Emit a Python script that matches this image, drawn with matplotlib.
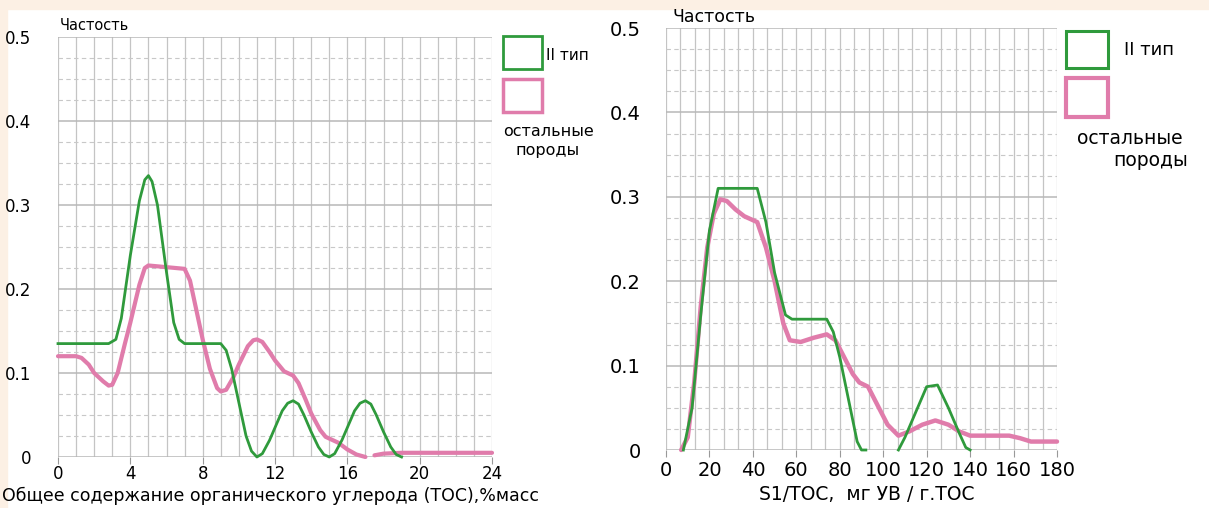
import numpy as np
import matplotlib
matplotlib.use("Agg")
import matplotlib.pyplot as plt
from matplotlib.ticker import MultipleLocator
from matplotlib.patches import Rectangle

plt.rcParams["font.family"] = ["DejaVu Sans"]

# Data
# left panel: TOC, % mass
toc_x = [0, 1, 2, 2.8, 3.2, 3.5, 4, 4.5, 4.8, 5, 5.2, 5.5, 6, 6.4, 6.7, 7, 8, 9,
         9.3, 9.6, 10, 10.4, 10.7, 11, 11.3, 11.7, 12, 12.4, 12.7, 13, 13.3, 13.6,
         14, 14.4, 14.7, 15, 15.3, 15.7, 16, 16.4, 16.7, 17, 17.3, 17.6, 18, 18.4,
         18.7, 19]
toc_type2 = [0.135, 0.135, 0.135, 0.135, 0.14, 0.165, 0.24, 0.305, 0.33, 0.335, 0.328,
             0.30, 0.22, 0.16, 0.14, 0.135, 0.135, 0.135, 0.127, 0.105, 0.065, 0.025,
             0.007, 0.0, 0.004, 0.02, 0.035, 0.055, 0.064, 0.067, 0.063, 0.05, 0.03,
             0.012, 0.003, 0.0, 0.004, 0.02, 0.035, 0.055, 0.064, 0.067, 0.063, 0.05,
             0.03, 0.012, 0.003, 0.0]
toc_other_x = [0, 1, 1.3, 1.7, 2, 2.5, 2.8, 3, 3.3, 3.7, 4, 4.5, 4.8, 5, 6, 7, 7.3,
               7.6, 8, 8.4, 8.8, 9, 9.3, 9.7, 10, 10.5, 10.8, 11, 11.3, 11.7, 12, 12.5,
               13, 13.3, 13.7, 14, 14.5, 14.8, 15, 15.5, 16, 16.5, 17,
               17.2, 17.5, 18, 19, 24]
toc_other = [0.12, 0.12, 0.118, 0.11, 0.10, 0.09, 0.085, 0.086, 0.10, 0.135, 0.16,
             0.205, 0.225, 0.228, 0.226, 0.224, 0.21, 0.18, 0.14, 0.105, 0.082, 0.078,
             0.08, 0.095, 0.11, 0.132, 0.139, 0.14, 0.137, 0.125, 0.115, 0.102, 0.097,
             0.088, 0.068, 0.052, 0.032, 0.024, 0.022, 0.017, 0.009, 0.003, 0.0,
             np.nan, 0.002, 0.004, 0.005, 0.005]

# right panel: S1/TOC
s1_x = [8, 12, 16, 20, 24, 42, 46, 50, 55, 58, 74, 77, 80, 84, 88, 90, 92,
        99, 107, 110, 115, 120, 125, 130, 135, 138, 140]
s1_type2 = [0.0, 0.05, 0.16, 0.26, 0.31, 0.31, 0.27, 0.21, 0.16, 0.155, 0.155, 0.14,
            0.11, 0.06, 0.01, 0.0, 0.0,
            np.nan, 0.0, 0.015, 0.045, 0.075, 0.077, 0.05, 0.02, 0.003, 0.0]
s1_other_x = [7, 10, 13, 16, 19, 22, 25, 28, 32, 36, 42, 46, 50, 54, 57, 62, 68, 74,
              78, 82, 86, 89, 93, 97, 102, 107, 112, 118, 124, 130, 135, 140, 158,
              163, 168, 180]
s1_other = [0.0, 0.015, 0.08, 0.17, 0.24, 0.28, 0.297, 0.295, 0.285, 0.277, 0.27, 0.24,
            0.20, 0.15, 0.13, 0.128, 0.133, 0.137, 0.13, 0.11, 0.09, 0.08, 0.075, 0.055,
            0.03, 0.017, 0.022, 0.03, 0.035, 0.03, 0.022, 0.017, 0.017, 0.014, 0.01, 0.01]

GREEN = "#2f9a3c"
PINK = "#e07cab"
W, H = 1209, 508

fig = plt.figure(figsize=(W / 100, H / 100), dpi=100)
fig.patch.set_facecolor("white")
# peach border strips
fig.patches.append(Rectangle((0, 1 - 9 / H), 1, 9 / H, transform=fig.transFigure,
                             color="#fcf0e4", zorder=-5))
fig.patches.append(Rectangle((0, 0), 7 / W, 1, transform=fig.transFigure,
                             color="#fcf0e4", zorder=-5))


def px_axes(x0, x1, y0, y1):
    # pixel box (y measured from top) -> figure axes
    return fig.add_axes([x0 / W, (H - y0) / H, (x1 - x0) / W, (y0 - y1) / H])


def style(ax, xmax, xmaj, xmin, xpad, ypad, fs):
    ax.set_ylim(0, 0.5)
    ax.set_xlim(0, xmax)
    for s in ax.spines.values():
        s.set_visible(False)
    ax.patch.set_alpha(0)
    ax.xaxis.set_major_locator(MultipleLocator(xmaj))
    ax.xaxis.set_minor_locator(MultipleLocator(xmin))
    ax.yaxis.set_major_locator(MultipleLocator(0.1))
    ax.yaxis.set_minor_locator(MultipleLocator(0.025))
    ax.grid(which="major", axis="y", color="#b8b8b8", lw=1.1)
    ax.grid(which="minor", axis="y", color="#c8c8c8", lw=0.8, ls=(0, (4, 3)))
    ax.grid(which="both", axis="x", color="#c4c4c4", lw=0.9)
    ax.tick_params(axis="x", which="major", length=5, color="#999999", labelsize=fs,
                   pad=xpad)
    ax.tick_params(axis="x", which="minor", length=0)
    ax.tick_params(axis="y", which="both", length=0, labelsize=fs, pad=ypad)
    ax.set_yticks([0, 0.1, 0.2, 0.3, 0.4, 0.5])
    ax.set_yticklabels(["0", "0.1", "0.2", "0.3", "0.4", "0.5"])
    ax.set_axisbelow(True)


# left panel
ax1 = px_axes(58, 492, 457, 37)
style(ax1, 24, 4, 1, 1, 19, 12)
ax1.plot(toc_x, toc_type2, color=GREEN, lw=2.0, clip_on=False, zorder=3)
ax1.plot(toc_other_x, toc_other, color=PINK, lw=3.0, clip_on=False, zorder=2,
         solid_capstyle="round")
fig.text(2 / W, 1 - 496 / H, "Общее содержание органического углерода (ТОС),%масс",
         fontsize=12.5, va="center", ha="left")

# right panel
ax2 = px_axes(666, 1057, 450, 28)
style(ax2, 180, 20, 20 / 3, 3, 18, 14)
ax2.plot(s1_x, s1_type2, color=GREEN, lw=2.0, clip_on=False, zorder=3)
ax2.plot(s1_other_x, s1_other, color=PINK, lw=3.2, clip_on=False, zorder=2,
         solid_capstyle="round")
fig.text(867 / W, 1 - 494 / H, "S1/TOC,  мг УВ / г.TOC", fontsize=13.5,
         va="center", ha="center")

# y axis captions
fig.text(60 / W, 1 - 25 / H, "Частость", fontsize=10.5, va="center", ha="left")
fig.text(672 / W, 1 - 17 / H, "Частость", fontsize=12.5, va="center", ha="left")


# hand drawn legends
def box(x0, y0, x1, y1, color, lw):
    fig.patches.append(Rectangle((x0 / W, 1 - y1 / H), (x1 - x0) / W, (y1 - y0) / H,
                                 transform=fig.transFigure, fill=False,
                                 edgecolor=color, lw=lw))


box(503, 36, 542, 69, GREEN, 2.0)
box(503, 79, 542, 112, PINK, 2.5)
fig.text(546 / W, 1 - 56 / H, "II тип", fontsize=11, va="center", ha="left")
fig.text(548 / W, 1 - 131 / H, "остальные", fontsize=11.5, va="center", ha="center")
fig.text(548 / W, 1 - 151 / H, "породы", fontsize=11.5, va="center", ha="center")

box(1066, 31, 1108, 68, GREEN, 2.2)
box(1066, 78, 1108, 117, PINK, 3.0)
fig.text(1124 / W, 1 - 50 / H, "II тип", fontsize=13, va="center", ha="left")
fig.text(1077 / W, 1 - 138 / H, "остальные", fontsize=13.5, va="center", ha="left")
fig.text(1188 / W, 1 - 161 / H, "породы", fontsize=13.5, va="center", ha="right")

fig.savefig("out.png", dpi=100)
